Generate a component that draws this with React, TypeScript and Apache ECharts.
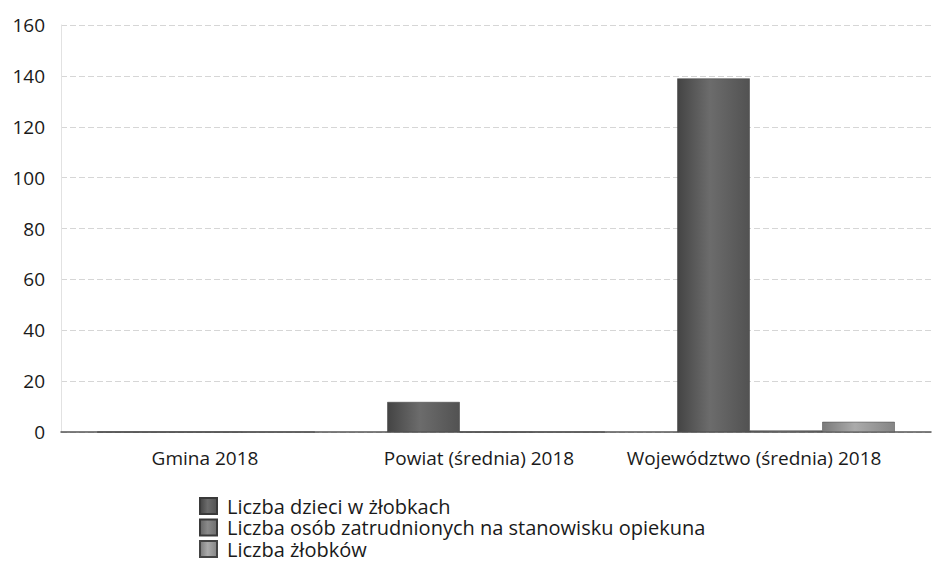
import React, { useEffect, useRef } from "react";
import * as echarts from "echarts";

const categories = ["Gmina 2018", "Powiat (średnia) 2018", "Województwo (średnia) 2018"];
const seriesNames = [
  "Liczba dzieci w żłobkach",
  "Liczba osób zatrudnionych na stanowisku opiekuna",
  "Liczba żłobków",
];
const dzieci = [0, 11.8, 139];
const opiekunowie = [0, 0, 0.6];
const zlobki = [0, 0, 4];
const yTicks = [0, 20, 40, 60, 80, 100, 120, 140, 160];

const grad = (a: string, b: string, c: string) =>
  new echarts.graphic.LinearGradient(0, 0, 1, 0, [
    { offset: 0, color: a },
    { offset: 0.45, color: b },
    { offset: 1, color: c },
  ]);

export default function App() {
  const ref = useRef<HTMLDivElement>(null);
  useEffect(() => {
    if (!ref.current) return;
    const chart = echarts.init(ref.current, null, { renderer: "svg" });
    const font = "'Open Sans', 'Noto Sans', sans-serif";
    const labelShift = [2, 34, 64];
    const legendTops = [496, 517.5, 539];
    chart.setOption({
      animation: false,
      textStyle: { fontFamily: font },
      grid: { left: 61, right: 2, top: 25, bottom: 129 },
      legend: seriesNames.map((name, i) => ({
        orient: "vertical",
        left: 199,
        top: legendTops[i],
        padding: 0,
        itemWidth: 17,
        itemHeight: 16,
        icon: "rect",
        textStyle: { fontSize: 20, color: "#1a1a1a", fontFamily: font, lineHeight: 16, padding: [0, 0, 0, 5] },
        data: [name],
      })),
      xAxis: {
        type: "category",
        data: categories,
        axisLine: { show: true, lineStyle: { color: "#555", width: 1.5 } },
        axisTick: { show: false },
        axisLabel: {
          interval: 0,
          fontSize: 19,
          color: "#1a1a1a",
          margin: 16,
          fontFamily: font,
          formatter: (v: string, i: number) => `{c${i}|${v}}`,
          rich: {
            c0: { fontSize: 19, fontFamily: font, color: "#1a1a1a", padding: [0, labelShift[0], 0, 0] },
            c1: { fontSize: 19, fontFamily: font, color: "#1a1a1a", padding: [0, labelShift[1], 0, 0] },
            c2: { fontSize: 19, fontFamily: font, color: "#1a1a1a", padding: [0, labelShift[2], 0, 0] },
          },
        },
      },
      yAxis: {
        type: "value",
        min: yTicks[0],
        max: yTicks[yTicks.length - 1],
        interval: 20,
        axisLine: { show: true, lineStyle: { color: "#e2e2e2" } },
        axisTick: { show: false },
        axisLabel: { fontSize: 19, color: "#1a1a1a", margin: 16, fontFamily: font },
        splitLine: { show: true, lineStyle: { color: "#d6d6d6", type: [6, 3] } },
      },
      series: [
        {
          name: seriesNames[0],
          type: "bar",
          data: dzieci,
          barGap: "0%",
          barCategoryGap: "25%",
          itemStyle: { color: grad("#444444", "#6c6c6c", "#525252"), borderColor: "#3a3a3a", borderWidth: 0.5 },
        },
        {
          name: seriesNames[1],
          type: "bar",
          data: opiekunowie,
          itemStyle: { color: grad("#666666", "#8a8a8a", "#6e6e6e"), borderColor: "#3a3a3a", borderWidth: 0.5 },
        },
        {
          name: seriesNames[2],
          type: "bar",
          data: zlobki,
          itemStyle: { color: grad("#7a7a7a", "#ababab", "#858585"), borderColor: "#444", borderWidth: 0.5 },
        },
      ],
    });
    return () => chart.dispose();
  }, []);
  return <div ref={ref} style={{ width: 933, height: 561, position: "absolute", left: 0, top: 0, background: "#fff" }} />;
}
